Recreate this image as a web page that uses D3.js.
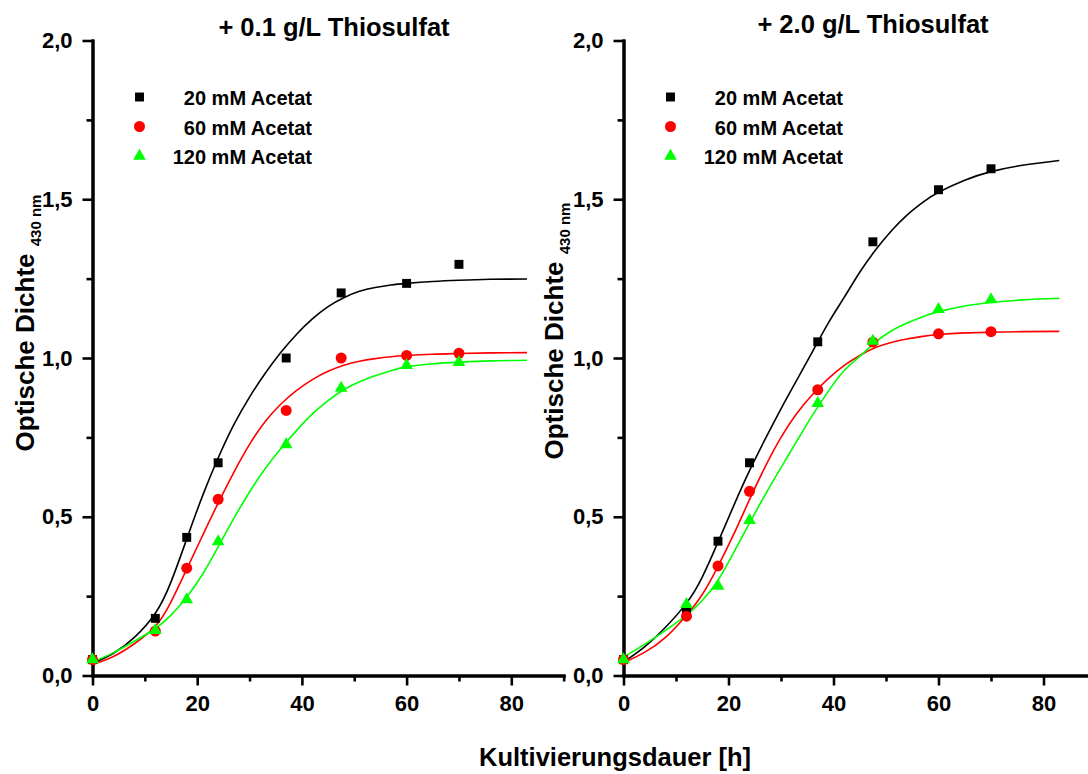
<!DOCTYPE html>
<html>
<head>
<meta charset="utf-8">
<script src="https://cdn.jsdelivr.net/npm/d3@7"></script>
<style>
  html, body { margin: 0; padding: 0; background: #fff; }
  svg { display: block; font-family: "Liberation Sans", Arial, sans-serif; font-weight: bold; }
</style>
</head>
<body>
<svg id="chart" width="1088" height="774"></svg>
<script>
// Sampling times of the optical density measurements [h]
const times = [0, 12, 18, 24, 37, 47.5, 60, 70];

// + 0.1 g/L Thiosulfat
const od20_low  = [0.05, 0.18, 0.435, 0.67, 1.0, 1.205, 1.235, 1.295];
const od60_low  = [0.05, 0.14, 0.338, 0.555, 0.835, 1.0, 1.008, 1.015];
const od120_low = [0.05, 0.142, 0.239, 0.422, 0.727, 0.905, 0.977, 0.986];

// + 2.0 g/L Thiosulfat
const od20_high  = [0.05, 0.21, 0.423, 0.67, 1.051, 1.366, 1.53, 1.596];
const od60_high  = [0.05, 0.187, 0.345, 0.58, 0.9, 1.05, 1.076, 1.083];
const od120_high = [0.05, 0.224, 0.282, 0.489, 0.857, 1.053, 1.153, 1.184];

// Growth-curve fits, sampled along the time axis
const fitTimes = [0, 4, 8, 12, 15, 18, 21, 24, 27, 30, 33, 36, 39, 42, 45, 48, 51, 54, 57, 60, 65, 70, 76, 83];
const fit20_low  = [0.038, 0.07, 0.12, 0.196, 0.295, 0.43, 0.565, 0.685, 0.79, 0.877, 0.952, 1.018, 1.075, 1.123, 1.162, 1.19, 1.21, 1.222, 1.23, 1.235, 1.241, 1.245, 1.248, 1.249];
const fit60_low  = [0.035, 0.06, 0.1, 0.155, 0.232, 0.335, 0.44, 0.543, 0.64, 0.728, 0.8, 0.855, 0.898, 0.932, 0.958, 0.977, 0.99, 0.998, 1.004, 1.008, 1.012, 1.014, 1.016, 1.017];
const fit120_low = [0.042, 0.072, 0.108, 0.148, 0.19, 0.247, 0.318, 0.405, 0.495, 0.578, 0.652, 0.715, 0.772, 0.824, 0.866, 0.9, 0.925, 0.944, 0.96, 0.972, 0.982, 0.987, 0.991, 0.993];
const fit20_high  = [0.042, 0.09, 0.152, 0.228, 0.31, 0.42, 0.535, 0.645, 0.745, 0.84, 0.93, 1.02, 1.11, 1.19, 1.27, 1.34, 1.4, 1.45, 1.49, 1.522, 1.56, 1.587, 1.607, 1.622];
const fit60_high  = [0.04, 0.073, 0.12, 0.19, 0.255, 0.344, 0.445, 0.554, 0.658, 0.75, 0.825, 0.885, 0.935, 0.976, 1.008, 1.033, 1.049, 1.06, 1.068, 1.074, 1.079, 1.081, 1.083, 1.084];
const fit120_high = [0.058, 0.098, 0.142, 0.19, 0.236, 0.3, 0.388, 0.48, 0.57, 0.655, 0.738, 0.82, 0.895, 0.96, 1.005, 1.05, 1.085, 1.11, 1.13, 1.146, 1.164, 1.175, 1.183, 1.188];

const seriesNames = ["20 mM Acetat", "60 mM Acetat", "120 mM Acetat"];
const panelTitles = ["+ 0.1 g/L Thiosulfat", "+ 2.0 g/L Thiosulfat"];
const xTicks = [0, 20, 40, 60, 80];
const xMinorTicks = [10, 30, 50, 70, 90];
const yTicks = [0, 0.5, 1.0, 1.5, 2.0];
const yMinorTicks = [0.25, 0.75, 1.25, 1.75];
const xLabel = "Kultivierungsdauer [h]";
const yLabel = "Optische Dichte";
const yLabelSub = "430 nm";

const colors = ["#000000", "#ff0000", "#00ff00"];
const symbols = [d3.symbolSquare, d3.symbolCircle, d3.symbolTriangle];
const symbolSizes = [80, 95, 70];

const svg = d3.select("#chart");
svg.append("rect").attr("width", 1088).attr("height", 774).attr("fill", "#fff");

const panels = [
  { left: 92.5, xRange: 5.235, title: panelTitles[0], titleX: 334, titleY: 36, labelX: 34, labelY: 323,
    points: [od20_low, od60_low, od120_low], fits: [fit20_low, fit60_low, fit120_low] },
  { left: 623.5, xRange: 5.25, title: panelTitles[1], titleX: 873, titleY: 33, labelX: 563, labelY: 331,
    points: [od20_high, od60_high, od120_high], fits: [fit20_high, fit60_high, fit120_high] }
];

const yTop = 40.5, yBottom = 675.5;
const commaFmt = d => d3.format(".1f")(d).replace(".", ",");

panels.forEach(p => {
  const x = d3.scaleLinear().domain([0, 90]).range([p.left, p.left + 90 * p.xRange]);
  const y = d3.scaleLinear().domain([0, 2]).range([yBottom, yTop]);
  const g = svg.append("g");

  // axes
  const styleAxis = sel => {
    sel.select(".domain").attr("stroke-width", 3).attr("stroke-linecap", "square");
    sel.selectAll(".tick line").attr("stroke-width", 2.6);
    sel.selectAll(".tick text").attr("font-size", 22).attr("font-weight", "bold")
      .attr("font-family", "Liberation Sans, Arial, sans-serif").attr("fill", "#000");
  };
  g.append("g").attr("transform", `translate(0,${yBottom})`)
    .call(d3.axisBottom(x).tickValues(xMinorTicks).tickSize(6).tickSizeOuter(0).tickFormat(""))
    .call(styleAxis);
  g.append("g").attr("transform", `translate(0,${yBottom})`)
    .call(d3.axisBottom(x).tickValues(xTicks).tickSize(10).tickSizeOuter(0).tickPadding(10).tickFormat(d3.format("d")))
    .call(styleAxis);
  g.append("g").attr("transform", `translate(${p.left},0)`)
    .call(d3.axisLeft(y).tickValues(yMinorTicks).tickSize(6).tickSizeOuter(0).tickFormat(""))
    .call(styleAxis);
  g.append("g").attr("transform", `translate(${p.left},0)`)
    .call(d3.axisLeft(y).tickValues(yTicks).tickSize(10).tickSizeOuter(0).tickPadding(10).tickFormat(commaFmt))
    .call(styleAxis);

  // title
  g.append("text").attr("x", p.titleX).attr("y", p.titleY)
    .attr("text-anchor", "middle").attr("font-size", 25.5).text(p.title);

  // y axis label with subscript
  const yl = g.append("text")
    .attr("transform", `translate(${p.labelX},${p.labelY}) rotate(-90)`)
    .attr("text-anchor", "middle").attr("font-size", 26);
  yl.append("tspan").text(yLabel + " ");
  yl.append("tspan").attr("font-size", 15).attr("dy", 7).text(yLabelSub);

  // fitted curves and measured points
  const line = d3.line().x(d => x(d[0])).y(d => y(d[1])).curve(d3.curveNatural);
  p.fits.forEach((fit, i) => {
    g.append("path").datum(fitTimes.map((t, k) => [t, fit[k]]))
      .attr("d", line).attr("fill", "none").attr("stroke", colors[i]).attr("stroke-width", 1.6);
  });
  p.points.forEach((vals, i) => {
    g.append("g").selectAll("path").data(times.map((t, k) => [t, vals[k]])).join("path")
      .attr("transform", d => `translate(${x(d[0])},${y(d[1])})`)
      .attr("d", d3.symbol().type(symbols[i]).size(symbolSizes[i]))
      .attr("fill", colors[i]);
  });

  // legend
  seriesNames.forEach((name, i) => {
    const ly = 97 + i * 29.5;
    g.append("path").attr("transform", `translate(${p.left + 47},${ly})`)
      .attr("d", d3.symbol().type(symbols[i]).size(symbolSizes[i])).attr("fill", colors[i]);
    g.append("text").attr("x", p.left + 219.5).attr("y", ly + 8)
      .attr("text-anchor", "end").attr("font-size", 20).text(name);
  });
});

// shared x axis label
svg.append("text").attr("x", 615).attr("y", 766).attr("text-anchor", "middle")
  .attr("font-size", 25.5).text(xLabel);
</script>
</body>
</html>
